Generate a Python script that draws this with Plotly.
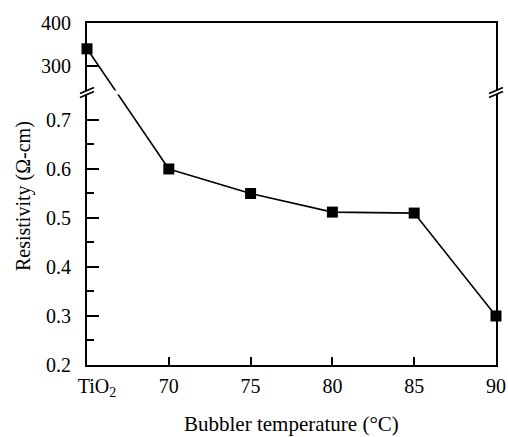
import plotly.graph_objects as go

# ---- data ----
categories = ["\u2002\u2002TiO<sub>2</sub>", "70", "75", "80", "85", "90"]
resistivity = [340, 0.60, 0.55, 0.512, 0.51, 0.30]   # Ω-cm (first value on upper, broken axis)
top_ticks = [300, 400]

# ---- geometry of broken axis ----
W_PX, H_PX = 409, 342
BOT_DOM = [0.0, 0.791]
TOP_DOM = [0.8026, 1.0]
BOT_RNG = [0.2, 0.752]
TOP_RNG = [243, 400]

def to_paper(v, rng, dom):
    return dom[0] + (v - rng[0]) / (rng[1] - rng[0]) * (dom[1] - dom[0])

def from_paper(p, rng, dom):
    return rng[0] + (p - dom[0]) / (dom[1] - dom[0]) * (rng[1] - rng[0])

xs = list(range(len(categories)))
FONT = "Liberation Serif"

fig = go.Figure()

# connecting segment across the break, drawn on both subplots (clipped by each)
p0 = to_paper(resistivity[0], TOP_RNG, TOP_DOM)
p1 = to_paper(resistivity[1], BOT_RNG, BOT_DOM)
fig.add_trace(go.Scatter(x=xs[:2], y=[resistivity[0], from_paper(p1, TOP_RNG, TOP_DOM)],
                         xaxis="x2", yaxis="y2", mode="lines",
                         line=dict(color="black", width=1.6), hoverinfo="skip", showlegend=False))
fig.add_trace(go.Scatter(x=xs[:2], y=[from_paper(p0, BOT_RNG, BOT_DOM), resistivity[1]],
                         xaxis="x", yaxis="y", mode="lines",
                         line=dict(color="black", width=1.6), hoverinfo="skip", showlegend=False))
# rest of the line + markers (lower axis)
fig.add_trace(go.Scatter(x=xs[1:], y=resistivity[1:], xaxis="x", yaxis="y",
                         mode="lines+markers", cliponaxis=False,
                         line=dict(color="black", width=1.6),
                         marker=dict(symbol="square", size=11, color="black"),
                         showlegend=False))
# first marker (upper axis)
fig.add_trace(go.Scatter(x=xs[:1], y=resistivity[:1], xaxis="x2", yaxis="y2",
                         mode="markers", cliponaxis=False,
                         marker=dict(symbol="square", size=11, color="black"),
                         showlegend=False))

tickfont = dict(family=FONT, size=20, color="black")

fig.update_layout(
    width=508, height=437,
    margin=dict(l=87, r=12, t=23, b=72, autoexpand=False),
    paper_bgcolor="white", plot_bgcolor="white",
    font=dict(family=FONT, color="black"),
    xaxis=dict(domain=[0, 1], anchor="y", range=[0, 5], tickmode="array",
               tickvals=xs, ticktext=categories, ticks="inside", ticklen=8,
               tickwidth=1.5, tickcolor="black", showline=True, linewidth=2,
               linecolor="black", mirror=False, showgrid=False, zeroline=False,
               tickfont=tickfont, ticklabelstandoff=2, automargin=False),
    xaxis2=dict(domain=[0, 1], anchor="y2", matches="x", range=[0, 5], side="top",
                showline=True, linewidth=2, linecolor="black", mirror=False,
                ticks="", showticklabels=False, showgrid=False, zeroline=False,
                automargin=False),
    yaxis=dict(domain=BOT_DOM, anchor="x", range=BOT_RNG, tick0=0.2, dtick=0.1,
               tickformat=".1f", ticks="inside", ticklen=12, tickwidth=1.5,
               tickcolor="black", showline=True, linewidth=2, linecolor="black",
               mirror=True, showgrid=False, zeroline=False, tickfont=tickfont,
               ticklabelstandoff=10, automargin=False,
               minor=dict(dtick=0.05, tick0=0.2, ticks="inside", ticklen=7,
                          tickwidth=1.5, tickcolor="black", showgrid=False)),
    yaxis2=dict(domain=TOP_DOM, anchor="x2", range=TOP_RNG, tickmode="array",
                tickvals=top_ticks, ticks="inside", ticklen=12, tickwidth=1.5,
                tickcolor="black", showline=True, linewidth=2, linecolor="black",
                mirror=True, showgrid=False, zeroline=False, tickfont=tickfont,
                ticklabelstandoff=10, automargin=False),
    annotations=[
        dict(text="Resistivity (Ω-cm)", xref="paper", yref="paper",
             x=-64 / W_PX, y=0.494, xanchor="center", yanchor="middle",
             textangle=-90, showarrow=False, font=dict(family=FONT, size=20, color="black")),
        dict(text="Bubbler temperature (°C)", xref="paper", yref="paper",
             x=0.5, y=-59 / H_PX, xanchor="center", yanchor="middle",
             showarrow=False, font=dict(family=FONT, size=21, color="black")),
    ],
)

# break marks "//" on both spines
shapes = []
for xp in (0.0, 1.0):
    for yp in (TOP_DOM[0], BOT_DOM[1]):
        shapes.append(dict(type="line", xref="paper", yref="paper",
                           x0=xp - 7 / W_PX, y0=yp - 3 / H_PX,
                           x1=xp + 7 / W_PX, y1=yp + 3 / H_PX,
                           line=dict(color="black", width=1.8)))
fig.update_layout(shapes=shapes)

fig.write_html("out.html", config={"displayModeBar": False},
               post_script="document.body.style.margin='0px';document.body.style.overflow='hidden';")
